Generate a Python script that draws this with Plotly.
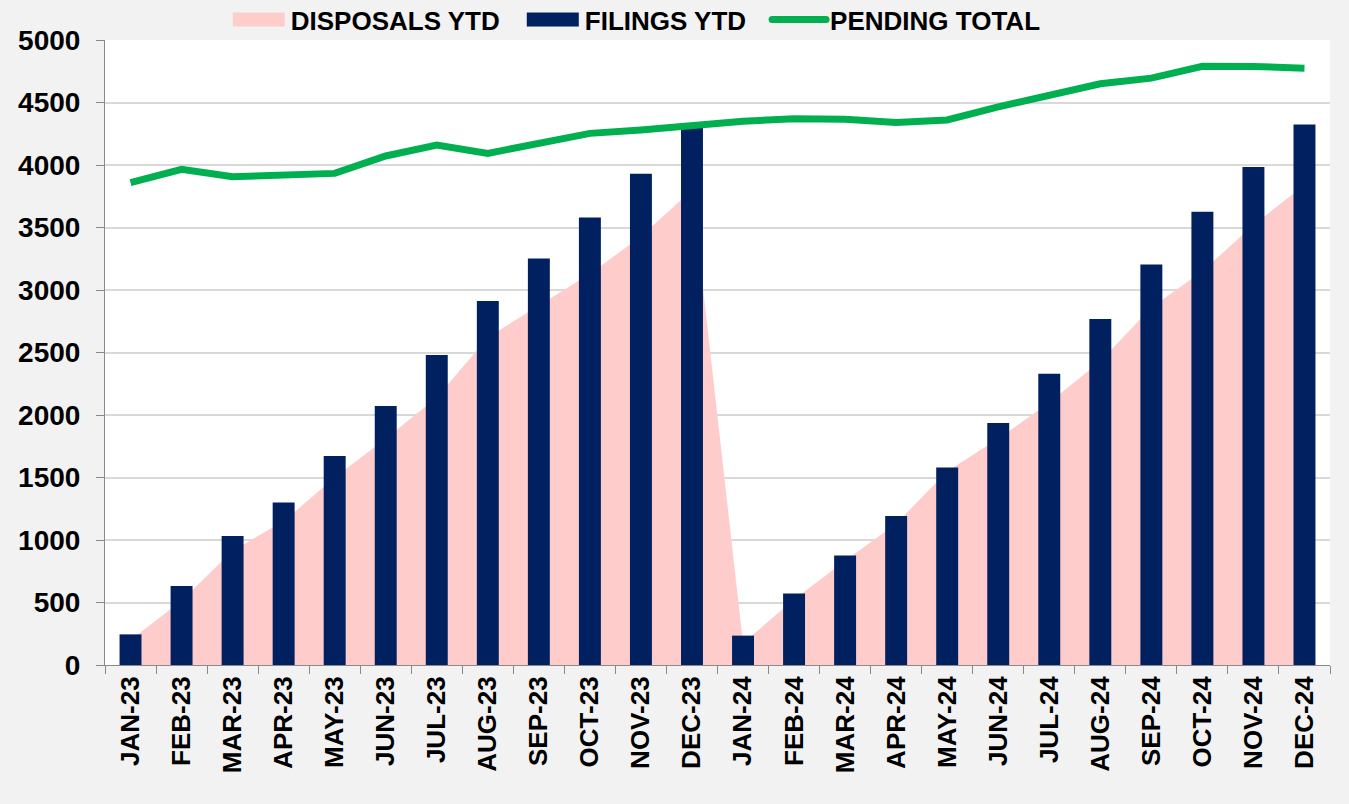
import plotly.graph_objects as go

months = ["JAN-23", "FEB-23", "MAR-23", "APR-23", "MAY-23", "JUN-23", "JUL-23", "AUG-23",
          "SEP-23", "OCT-23", "NOV-23", "DEC-23",
          "JAN-24", "FEB-24", "MAR-24", "APR-24", "MAY-24", "JUN-24", "JUL-24", "AUG-24",
          "SEP-24", "OCT-24", "NOV-24", "DEC-24"]

disposals_ytd = [200, 515, 915, 1150, 1500, 1810, 2140, 2620, 2876, 3130, 3428, 3800,
                 175, 525, 835, 1130, 1550, 1810, 2100, 2430, 2860, 3150, 3520, 3840]

filings_ytd = [245, 632, 1032, 1301, 1672, 2072, 2480, 2912, 3253, 3581, 3931, 4305,
               235, 573, 877, 1192, 1581, 1936, 2331, 2768, 3205, 3627, 3984, 4325]

pending_total = [3859, 3965, 3907, 3920, 3933, 4072, 4160, 4093, 4175, 4253, 4280, 4318,
                 4350, 4370, 4366, 4341, 4360, 4465, 4560, 4650, 4695, 4790, 4788, 4775]

y_ticks = [0, 500, 1000, 1500, 2000, 2500, 3000, 3500, 4000, 4500, 5000]

FONT = "Liberation Sans, Arial, sans-serif"
PINK = "#ffcccc"
NAVY = "#002060"
GREEN = "#00b050"

fig = go.Figure()

fig.add_trace(go.Scatter(
    x=months, y=disposals_ytd, name="DISPOSALS YTD",
    mode="lines", line=dict(width=0, color=PINK),
    fill="tozeroy", fillcolor=PINK,
    xaxis="x", yaxis="y",
))

fig.add_trace(go.Bar(
    x=months, y=filings_ytd, name="FILINGS YTD",
    marker=dict(color=NAVY, line=dict(width=0)),
    xaxis="x2", yaxis="y2",
))

fig.add_trace(go.Scatter(
    x=months, y=pending_total, name="PENDING TOTAL",
    mode="lines", line=dict(color=GREEN, width=7),
    xaxis="x2", yaxis="y2",
))

fig.update_layout(
    width=1349, height=804,
    margin=dict(l=105, r=19, t=40, b=139, autoexpand=False),
    paper_bgcolor="#f2f2f2",
    plot_bgcolor="#ffffff",
    font=dict(family=FONT, color="#000000", weight="bold"),
    bargap=0.57,
    showlegend=True,
    legend=dict(
        orientation="h", x=0.0945, xanchor="left", y=0.995, yanchor="bottom",
        font=dict(family=FONT, size=26, color="#000000", weight="bold"),
        itemwidth=60, bgcolor="rgba(0,0,0,0)", tracegroupgap=0,
    ),
    xaxis=dict(
        type="category", categoryorder="array", categoryarray=months,
        range=[-0.5, 23.5],
        tickangle=-90, tickfont=dict(family=FONT, size=26, weight="bold"),
        showgrid=False, showline=True, linecolor="#898989", linewidth=1,
        ticks="outside", tickson="boundaries", ticklen=8, tickcolor="#898989",
        zeroline=False,
    ),
    yaxis=dict(
        range=[0, 5000], tickvals=y_ticks,
        tickfont=dict(family=FONT, size=28, weight="bold"),
        showgrid=True, gridcolor="#d9d9d9", gridwidth=1.5,
        showline=True, linecolor="#898989", linewidth=1,
        ticks="outside", ticklen=8, tickcolor="#898989",
        zeroline=False, ticklabelstandoff=10,
    ),
    xaxis2=dict(
        type="category", categoryorder="array", categoryarray=months,
        range=[-0.5, 23.5], overlaying="x", visible=False,
    ),
    yaxis2=dict(
        range=[0, 5000], overlaying="y", visible=False,
    ),
)

post = """
document.body.style.margin = '0';
document.body.style.overflow = 'hidden';
var gd = document.getElementById('{plot_id}');
var legend = gd.querySelector('g.legend');
if (legend) {
  var clipped = legend.querySelectorAll('[clip-path]');
  for (var c = 0; c < clipped.length; c++) { clipped[c].removeAttribute('clip-path'); }
  if (legend.hasAttribute('clip-path')) { legend.removeAttribute('clip-path'); }
}
var items = gd.querySelectorAll('g.legend g.traces');
var cols = ['%s', '%s'];
var shifts = [0, 10, 19];
for (var i = 0; i < 2 && i < items.length; i++) {
  var paths = items[i].querySelectorAll('path');
  for (var j = 0; j < paths.length; j++) { paths[j].style.display = 'none'; }
  var holder = items[i].querySelector('g.legendsymbols') || items[i];
  var r = document.createElementNS('http://www.w3.org/2000/svg', 'rect');
  r.setAttribute('x', '12'); r.setAttribute('y', '-7');
  r.setAttribute('width', '52'); r.setAttribute('height', '14');
  r.setAttribute('fill', cols[i]);
  holder.appendChild(r);
}
if (items.length > 2) {
  var lp = items[2].querySelectorAll('g.legendlines path');
  for (var k = 0; k < lp.length; k++) {
    lp[k].setAttribute('d', 'M12,0h54');
    lp[k].style.strokeLinecap = 'round';
  }
}
for (var m = 0; m < items.length && m < shifts.length; m++) {
  var t = items[m].getAttribute('transform') || '';
  var mt = /translate\\(\\s*([-0-9.e]+)[ ,]+([-0-9.e]+)\\s*\\)/.exec(t);
  if (mt) {
    var nx = parseFloat(mt[1]) + shifts[m];
    items[m].setAttribute('transform', 'translate(' + nx + ',' + mt[2] + ')');
  }
}
""" % (PINK, NAVY)

fig.write_html("out.html", post_script=post, config={"displayModeBar": False})
